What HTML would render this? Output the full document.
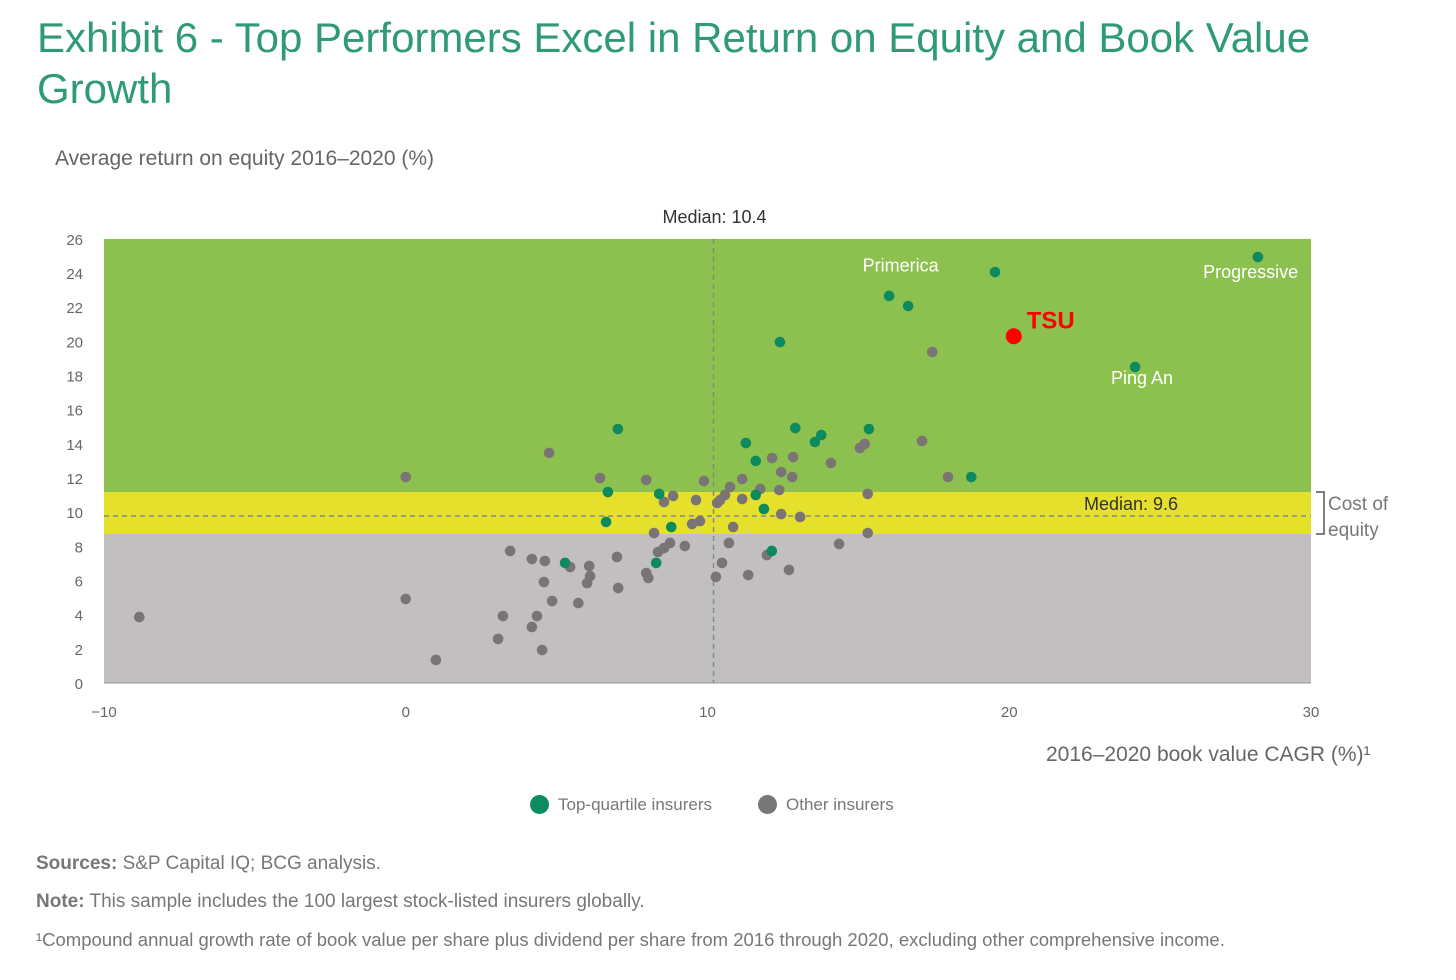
<!DOCTYPE html>
<html><head><meta charset="utf-8"><style>
body{margin:0;width:1456px;height:980px;background:#fff;font-family:"Liberation Sans",sans-serif;overflow:hidden;position:relative}
.t{position:absolute;white-space:nowrap}
</style></head><body>
<div class="t" style="left:37px;top:12px;font-size:42px;line-height:51px;color:#2f9a78">Exhibit 6 - Top Performers Excel in Return on Equity and Book Value<br>Growth</div>
<div class="t" style="left:55px;top:147px;font-size:21px;color:#666">Average return on equity 2016–2020 (%)</div>
<svg id="chart" width="1456" height="980" style="position:absolute;left:0;top:0"></svg>
<div class="t" style="left:1046px;top:743px;font-size:21px;color:#666">2016–2020 book value CAGR (%)¹</div>
<div class="t" style="left:530px;top:795px;font-size:17px;color:#777"><span style="display:inline-block;width:19px;height:19px;border-radius:50%;background:#0e8a5f;vertical-align:-4px;margin-right:9px"></span>Top-quartile insurers</div>
<div class="t" style="left:758px;top:795px;font-size:17px;color:#777"><span style="display:inline-block;width:19px;height:19px;border-radius:50%;background:#777;vertical-align:-4px;margin-right:9px"></span>Other insurers</div>
<div class="t" style="left:36px;top:853px;font-size:19px;color:#777"><b>Sources:</b> S&amp;P Capital IQ; BCG analysis.</div>
<div class="t" style="left:36px;top:891px;font-size:19px;color:#777"><b>Note:</b> This sample includes the 100 largest stock-listed insurers globally.</div>
<div class="t" style="left:36px;top:929px;font-size:18.5px;color:#777">¹Compound annual growth rate of book value per share plus dividend per share from 2016 through 2020, excluding other comprehensive income.</div>
<script>
const topX=[28.24,19.53,16.02,16.65,12.40,24.17,7.03,15.35,12.91,13.77,13.56,11.27,11.60,18.74,6.70,8.40,11.60,11.87,6.64,8.80,12.13,5.28,8.30];
const topY=[24.94,24.06,22.66,22.07,19.96,18.50,14.87,14.87,14.93,14.52,14.11,14.05,13.00,12.06,11.18,11.07,11.01,10.19,9.43,9.13,7.73,7.03,7.03];
const otherX=[4.75,6.44,7.97,9.88,8.56,8.86,9.62,10.32,10.42,10.58,10.75,11.15,12.14,12.84,12.44,12.81,11.75,11.15,12.38,14.09,15.05,15.21,15.31,15.31,12.44,13.07,10.85,9.75,9.49,8.23,8.76,8.56,8.36,9.25,10.71,14.36,11.97,12.70,11.35,10.48,10.28,7.00,7.04,7.97,8.04,3.46,4.18,4.61,5.45,6.08,6.11,6.01,4.58,4.85,5.72,4.35,3.22,4.18,3.06,4.52,0,0,1.0,-8.83,17.45,17.11,17.97];
const otherY=[13.47,12.00,11.89,11.83,10.60,10.95,10.71,10.54,10.71,11.01,11.48,11.94,13.17,13.23,12.35,12.06,11.36,10.77,11.30,12.88,13.76,13.99,11.07,8.78,9.89,9.72,9.13,9.48,9.31,8.78,8.20,7.90,7.67,8.02,8.20,8.14,7.49,6.62,6.32,7.03,6.21,7.38,5.56,6.44,6.15,7.73,7.26,7.14,6.79,6.85,6.26,5.85,5.91,4.80,4.68,3.92,3.92,3.28,2.58,1.93,12.06,4.92,1.35,3.86,19.38,14.17,12.06];
const xTicks=[-10,0,10,20,30];
const yTicks=[0,2,4,6,8,10,12,14,16,18,20,22,24,26];
const medianX=10.2, medianY=9.78, bandLo=8.72, bandHi=11.18;
const labels=[["Primerica",16.4,24.1],["Progressive",28.0,23.7],["Ping An",24.4,17.5]];
const tsu=[20.15,20.3];
const NS="http://www.w3.org/2000/svg";
const svg=document.getElementById('chart');
const X=v=>405.75+v*30.175, Y=v=>683-v*17.08;
function mk(tag,a){const e=document.createElementNS(NS,tag);for(const k in a)e.setAttribute(k,a[k]);svg.appendChild(e);return e;}
let r;
r=mk('rect',{x:X(-10),y:Y(26),width:X(30)-X(-10),height:Y(bandHi)-Y(26),fill:'#8dc14f'});


r=mk('rect',{x:X(-10),y:Y(bandHi),width:X(30)-X(-10),height:Y(bandLo)-Y(bandHi),fill:'#e4e02c'});


r=mk('rect',{x:X(-10),y:Y(bandLo),width:X(30)-X(-10),height:Y(0)-Y(bandLo),fill:'#c1bfbf'});


r=mk('line',{x1:X(medianX),x2:X(medianX),y1:Y(26),y2:Y(0),stroke:'#888','stroke-dasharray':'5,4','stroke-width':1.5});


r=mk('line',{x1:X(-10),x2:X(30),y1:Y(medianY),y2:Y(medianY),stroke:'#888','stroke-dasharray':'5,4','stroke-width':1.5});


r=mk('line',{x1:X(-10),x2:X(30),y1:Y(0),y2:Y(0),stroke:'#999','stroke-width':1});


xTicks.forEach(v=>{const t=mk('text',{x:X(v),y:717,'font-size':15,fill:'#666','text-anchor':'middle'});t.textContent=v<0?'−'+(-v):v;

});
yTicks.forEach(v=>{const t=mk('text',{x:83,y:Y(v)+6,'font-size':15,fill:'#666','text-anchor':'end'});t.textContent=v;

});
let t=mk('text',{x:X(medianX)+1,y:223,'font-size':18,fill:'#333','text-anchor':'middle'});t.textContent='Median: 10.4';


t=mk('text',{x:1084,y:Y(medianY)-6,'font-size':18,fill:'#333'});t.textContent='Median: 9.6';


r=mk('path',{d:`M${X(30)+5} ${Y(bandHi)}H${X(30)+13}V${Y(bandLo)}H${X(30)+5}`,fill:'none',stroke:'#555','stroke-width':1.5});


t=mk('text',{x:1328,y:510,'font-size':19,fill:'#777'});t.textContent='Cost of';


t=mk('text',{x:1328,y:536,'font-size':19,fill:'#777'});t.textContent='equity';


otherX.forEach((v,i)=>{const c=mk('circle',{cx:X(v),cy:Y(otherY[i]),r:5.3,fill:'#7a7474'});

});
topX.forEach((v,i)=>{const c=mk('circle',{cx:X(v),cy:Y(topY[i]),r:5.3,fill:'#0e8a5f'});

});
labels.forEach(l=>{const e=mk('text',{x:X(l[1]),y:Y(l[2]),'font-size':18,fill:'#fff','text-anchor':'middle'});e.textContent=l[0];

});
r=mk('circle',{cx:X(tsu[0]),cy:Y(tsu[1]),r:8,fill:'#f00'});


t=mk('text',{x:X(tsu[0])+13,y:Y(tsu[1])-8,'font-size':24,'font-weight':'bold',fill:'#f00'});t.textContent='TSU';


</script>
</body></html>
